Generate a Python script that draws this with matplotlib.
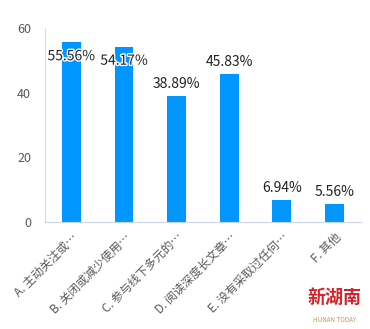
import matplotlib
matplotlib.use("Agg")
from matplotlib import pyplot as plt
import matplotlib.patheffects as pe

plt.rcParams['font.family'] = ['Noto Sans CJK SC', 'DejaVu Sans']

categories = ["A. 主动关注或…", "B. 关闭或减少使用…", "C. 参与线下多元的…",
              "D. 阅读深度长文章…", "E. 没有采取过任何…", "F. 其他"]
values = [55.56, 54.17, 38.89, 45.83, 6.94, 5.56]
labels = ["55.56%", "54.17%", "38.89%", "45.83%", "6.94%", "5.56%"]
y_ticks = [0, 20, 40, 60]

fig = plt.figure(figsize=(3.7, 3.29), dpi=100)
ax = fig.add_axes([0.1216, 0.325, 0.854, 0.59])

x = list(range(len(values)))
ax.bar(x, values, width=0.36, color='#0096FF', zorder=2)

for i, (v, lab) in enumerate(zip(values, labels)):
    if i < 2:
        # first two labels sit inside the bar top, with white outline
        ax.annotate(lab, (i, v), xytext=(0, -10), textcoords='offset points',
                    ha='center', va='center', fontsize=10, color='#222222',
                    path_effects=[pe.withStroke(linewidth=2, foreground='white')])
    else:
        ax.annotate(lab, (i, v), xytext=(0, 8.6), textcoords='offset points',
                    ha='center', va='center', fontsize=10, color='#222222')

ax.set_xlim(-0.5, len(values) - 0.5)
ax.set_ylim(0, 60)
ax.set_yticks(y_ticks)
ax.tick_params(axis='y', length=0, labelsize=9, labelcolor='#595959', pad=10)
ax.set_xticks(x)
ax.set_xticklabels(categories, rotation=45, ha='right', rotation_mode='anchor',
                   fontsize=8.5, color='#595959')
ax.tick_params(axis='x', length=0, pad=6)

for side in ['top', 'right']:
    ax.spines[side].set_visible(False)
ax.spines['left'].set_color('#D5DCE8')
ax.spines['bottom'].set_color('#C9D4E6')

# watermark
fig.text(0.905, 0.095, "新湖南", ha='center', va='center', fontsize=13,
         color='#D7222B', fontweight='bold', style='italic')
fig.text(0.905, 0.028, "HUNAN TODAY", ha='center', va='center', fontsize=4.5,
         color='#C49A5A')

fig.savefig("out.png", dpi=100)
